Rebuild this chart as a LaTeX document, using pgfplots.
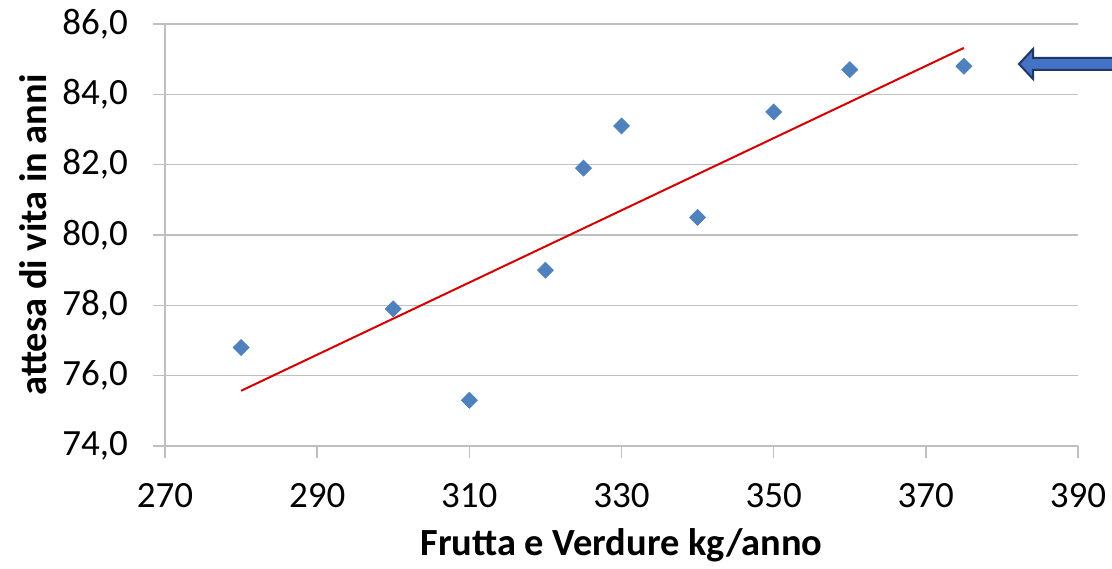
\documentclass[border=0pt]{standalone}
\usepackage{pgfplots}
\pgfplotsset{compat=1.18}
\usepackage{fontspec}
\setmainfont{Carlito}
\definecolor{ptblue}{HTML}{4F81BD}
\definecolor{trendred}{HTML}{D40000}
\definecolor{gridgray}{HTML}{BFBFBF}
\definecolor{arrowfill}{HTML}{4472C4}
\definecolor{arrowedge}{HTML}{1F3864}
\begin{document}
\begin{tikzpicture}
\useasboundingbox (-82.5pt,-61pt) rectangle (473.5pt,223pt);
\begin{axis}[
  at={(0,0)}, anchor=south west,
  scale only axis,
  width=456.5pt, height=211pt,
  xmin=270, xmax=390, ymin=74, ymax=86,
  xtick={270,290,...,390},
  ytick={74,76,...,86},
  axis lines*=left,
  axis line style={gridgray, line width=0.75pt},
  ymajorgrids,
  grid style={gridgray, line width=0.75pt},
  major tick style={gridgray, line width=0.75pt},
  tick align=outside,
  major tick length=6pt,
  clip=false,
  /pgf/number format/assume math mode=true,
  yticklabel={\pgfmathprintnumber[fixed,fixed zerofill,precision=1,use comma]{\tick}},
  xticklabel={\pgfmathprintnumber[fixed,precision=0,1000 sep={}]{\tick}},
  ticklabel style={font=\fontsize{18.5pt}{20pt}\selectfont, text=black},
  yticklabel style={xshift=-9pt},
  xticklabel style={yshift=-9pt},
  xlabel={Frutta e Verdure kg/anno},
  ylabel={attesa di vita in anni},
  every axis x label/.style={at={(axis description cs:0.5,0)}, anchor=base, yshift=-54.5pt,
    font=\fontsize{19.2pt}{21pt}\selectfont\bfseries},
  every axis y label/.style={at={(axis description cs:-0.1446,0.5)}, anchor=center, rotate=90,
    font=\fontsize{19.2pt}{21pt}\selectfont\bfseries},
]
\addplot[only marks, mark=square*, mark size=2.8pt, mark options={rotate=45, fill=ptblue, draw=ptblue}]
coordinates {
(280,76.8) (300,77.9) (310,75.3) (320,79.0) (325,81.9)
(330,83.1) (340,80.5) (350,83.5) (360,84.7) (375,84.8)
};
\addplot[trendred, line width=1pt] coordinates {(280,75.57) (375,85.32)};
\end{axis}
\draw[fill=arrowfill, draw=arrowedge, line width=1pt]
  (427pt,191pt) -- (434pt,198.5pt) -- (434pt,194pt) -- (480pt,194pt)
  -- (480pt,188pt) -- (434pt,188pt) -- (434pt,183.5pt) -- cycle;
\end{tikzpicture}
\end{document}
